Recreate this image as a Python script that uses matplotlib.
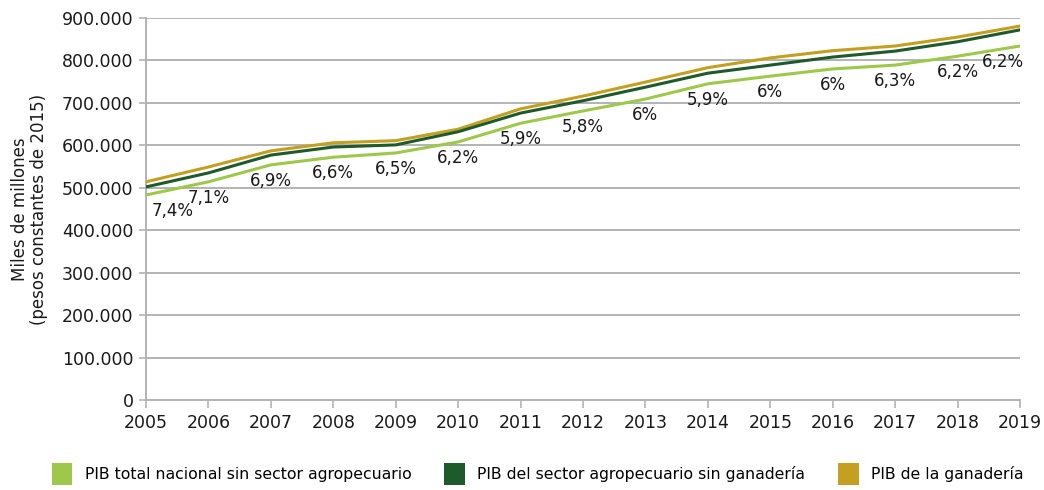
import matplotlib.pyplot as plt
from matplotlib.patches import Patch
from matplotlib.ticker import FuncFormatter

years = list(range(2005, 2020))
pib_sin_agro = [483000, 514000, 554000, 572000, 582000, 608000, 652000, 681000,
                709000, 745000, 763000, 780000, 789000, 810000, 834000]
pib_agro_sin_gan = [502000, 535000, 577000, 596000, 601000, 632000, 676000, 705000,
                    737000, 770000, 789000, 808000, 822000, 844000, 872000]
pib_ganaderia = [514000, 549000, 587000, 606000, 611000, 638000, 686000, 716000,
                 749000, 783000, 806000, 823000, 834000, 855000, 881000]
crecimiento = ["7,4%", "7,1%", "6,9%", "6,6%", "6,5%", "6,2%", "5,9%", "5,8%",
               "6%", "5,9%", "6%", "6%", "6,3%", "6,2%", "6,2%"]

C_LIGHT = "#9dc84a"
C_DARK = "#1e5a2c"
C_GOLD = "#c4a021"
GRID = "#b3b3b3"

plt.rcParams["font.family"] = ["DejaVu Sans"]

fig = plt.figure(figsize=(10.44, 4.9), dpi=100)
ax = fig.add_axes([146 / 1044, 1 - 400 / 490, (1020 - 146) / 1044, (400 - 18) / 490])

ax.plot(years, pib_sin_agro, color=C_LIGHT, lw=2.2, zorder=3)
ax.plot(years, pib_agro_sin_gan, color=C_DARK, lw=2.2, zorder=4)
ax.plot(years, pib_ganaderia, color=C_GOLD, lw=2.2, zorder=3)

# etiquetas de crecimiento bajo la linea verde claro
for i, (x, y, t) in enumerate(zip(years, pib_sin_agro, crecimiento)):
    dx, ha = 0, "center"
    if i == 0:
        dx, ha = 6, "left"
    elif i == len(years) - 1:
        dx, ha = 4, "right"
    ax.annotate(t, (x, y), xytext=(dx, -16), textcoords="offset pixels",
                ha=ha, va="center", fontsize=12, color="#1a1a1a", zorder=5)

ax.set_xlim(2005, 2019)
ax.set_ylim(0, 900000)
ax.set_xticks(years)
ax.set_yticks(range(0, 900001, 100000))
ax.yaxis.set_major_formatter(FuncFormatter(lambda v, p: f"{int(v):,}".replace(",", ".")))
ax.grid(axis="y", color=GRID, lw=1.4, zorder=0)
ax.set_axisbelow(True)
for s in ["top", "right"]:
    ax.spines[s].set_visible(False)
for s in ["left", "bottom"]:
    ax.spines[s].set_color(GRID)
    ax.spines[s].set_linewidth(1.4)
ax.tick_params(axis="both", colors=GRID, labelcolor="#1a1a1a", labelsize=12.5, width=1.2)
ax.tick_params(axis="x", length=6, pad=4)
ax.tick_params(axis="y", length=5, pad=4)

ax.set_ylabel("Miles de millones\n(pesos constantes de 2015)", fontsize=12,
              color="#1a1a1a", linespacing=1.1)
ax.yaxis.set_label_coords(-98 / 874, 0.5)

handles = [Patch(facecolor=C_LIGHT, label="PIB total nacional sin sector agropecuario"),
           Patch(facecolor=C_DARK, label="PIB del sector agropecuario sin ganadería"),
           Patch(facecolor=C_GOLD, label="PIB de la ganadería")]
fig.legend(handles=handles, loc="center", bbox_to_anchor=(0.515, 1 - 474 / 490), ncol=3,
           frameon=False, fontsize=11.3, handlelength=1.3, handleheight=1.8,
           columnspacing=2.1, handletextpad=0.8)

fig.savefig("out.png", dpi=100)
